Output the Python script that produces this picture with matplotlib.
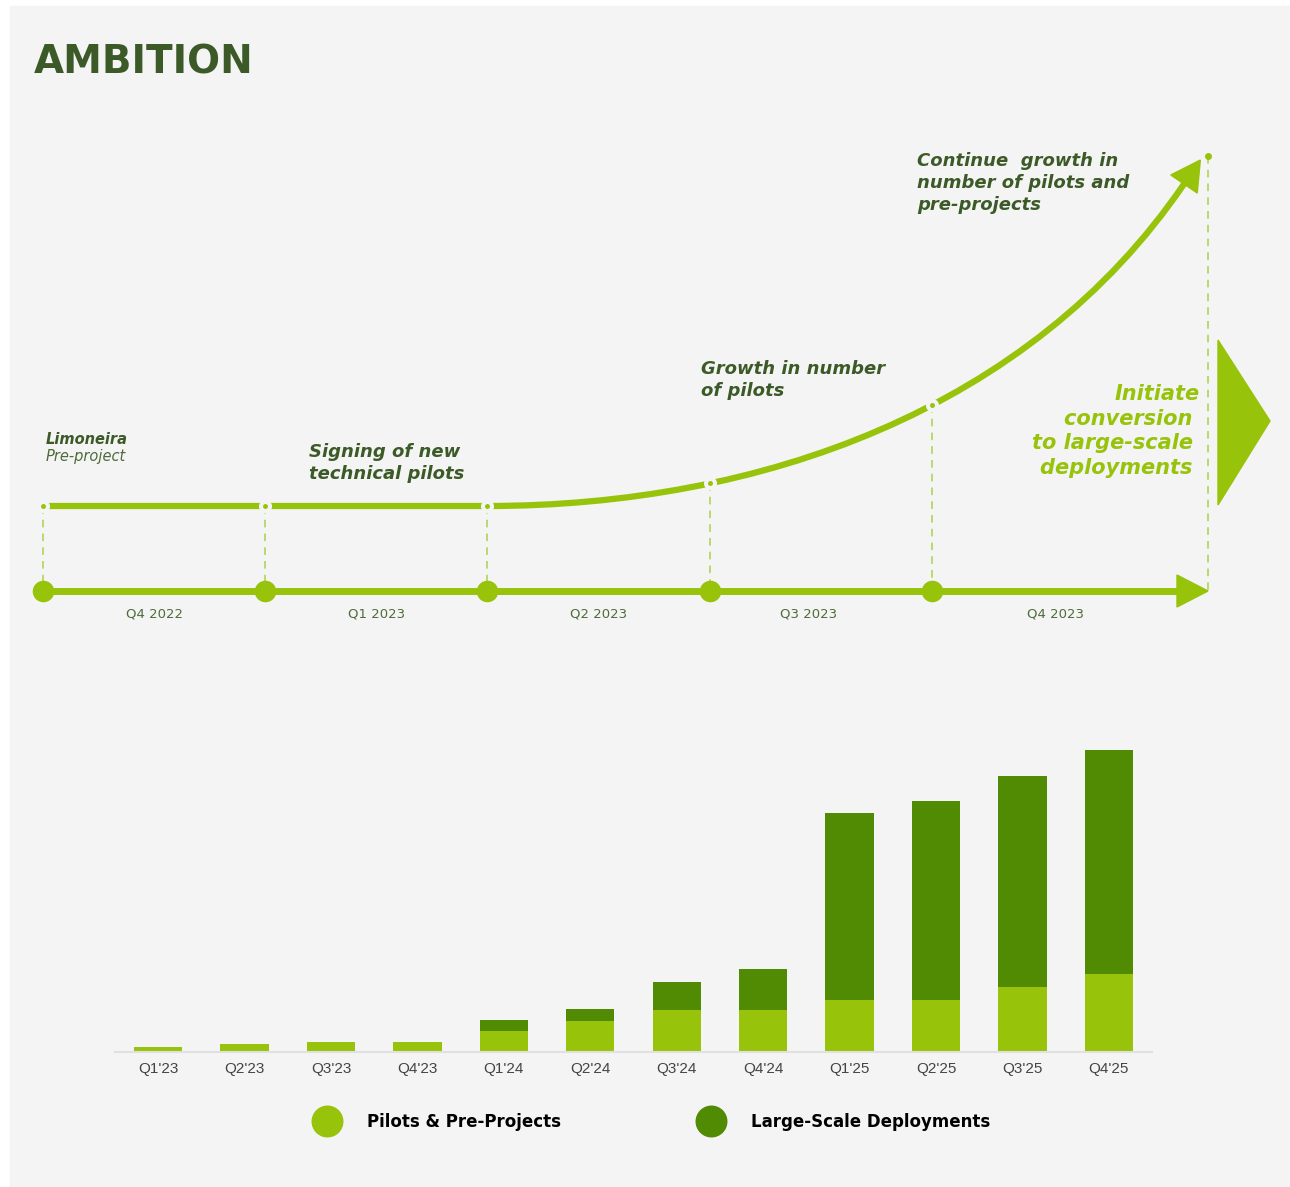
import numpy as np
import matplotlib
matplotlib.use("Agg")
import matplotlib.pyplot as plt
from matplotlib.patches import Rectangle, Polygon, PathPatch
from matplotlib.path import Path
from matplotlib.lines import Line2D

# --- data -----------------------------------------------------------------
bar_labels = ["Q1'23", "Q2'23", "Q3'23", "Q4'23", "Q1'24", "Q2'24",
              "Q3'24", "Q4'24", "Q1'25", "Q2'25", "Q3'25", "Q4'25"]
pilots = [2, 3, 4, 4, 8, 12, 16, 16, 20, 20, 25, 30]
large_scale = [0, 0, 0, 0, 4.5, 4.5, 11, 16, 72, 76.5, 81, 86]

timeline_quarters = ["Q4 2022", "Q1 2023", "Q2 2023", "Q3 2023", "Q4 2023"]
milestone_texts = ["Signing of new\ntechnical pilots",
                   "Growth in number\nof pilots",
                   "Continue  growth in\nnumber of pilots and\npre-projects"]

LIGHT = "#97C30A"
DARK = "#518A03"
DASH = "#A9D14B"
TXT = "#3C5A27"
BG = "#F4F4F4"

W, H = 1290, 1187
fig = plt.figure(figsize=(W / 100, H / 100), dpi=100, facecolor="white")

# overlay axes in pixel coordinates for the timeline diagram
ov = fig.add_axes([0, 0, 1, 1])
ov.set_xlim(0, W)
ov.set_ylim(H, 0)
ov.axis("off")
ov.add_patch(Rectangle((10, 6), W - 10, H - 6, color=BG, zorder=0))

ov.text(34, 62, "AMBITION", fontsize=28, fontweight="bold", color=TXT,
        va="center", ha="left")

# timeline geometry
x0, step = 43, 222.2
nodes_x = [x0 + step * i for i in range(len(timeline_quarters))]
end_x = 1208
base_y = 591
flat_y = 506

# base axis with arrow
ov.plot([x0, 1180], [base_y, base_y], color=LIGHT, lw=5, solid_capstyle="butt", zorder=3)
ov.add_patch(Polygon([[1177, 575], [1177, 607], [end_x, base_y]], color=LIGHT, zorder=3))
ov.plot(nodes_x, [base_y] * len(nodes_x), "o", color=LIGHT, ms=14.5, zorder=4)

# quarter labels between nodes
seg_edges = nodes_x + [1180]
label_x = [(seg_edges[i] + seg_edges[i + 1]) / 2 for i in range(len(timeline_quarters))]
label_x[3] -= 12
for q, lx in zip(timeline_quarters, label_x):
    ov.text(lx, 614, q, fontsize=9.5, color="#4E6B3A", ha="center", va="center")

# growth curve: flat then rising bezier
P0 = (nodes_x[2], flat_y)
P1 = (760, flat_y)
P2 = (1030, 410)
P3 = (1184, 184)
ov.plot([x0, nodes_x[2]], [flat_y, flat_y], color=LIGHT, lw=4.5,
        solid_capstyle="butt", zorder=3)
curve = Path([P0, P1, P2, P3], [Path.MOVETO, Path.CURVE4, Path.CURVE4, Path.CURVE4])
ov.add_patch(PathPatch(curve, fill=False, edgecolor=LIGHT, lw=4.5,
                       capstyle="butt", zorder=3))
d = np.array(P3) - np.array(P2)
d = d / np.hypot(*d)
n = np.array([-d[1], d[0]])
tip = np.array(P3) + 29 * d
ov.add_patch(Polygon([tip, np.array(P3) + 16 * n, np.array(P3) - 16 * n],
                     color=LIGHT, zorder=3))


def bez(t):
    p = [np.array(v, float) for v in (P0, P1, P2, P3)]
    return ((1 - t) ** 3 * p[0] + 3 * (1 - t) ** 2 * t * p[1]
            + 3 * (1 - t) * t ** 2 * p[2] + t ** 3 * p[3])


def y_on_curve(x):
    ts = np.linspace(0, 1, 400)
    pts = np.array([bez(t) for t in ts])
    return np.interp(x, pts[:, 0], pts[:, 1])


dot_y = [flat_y, flat_y, flat_y, y_on_curve(nodes_x[3]), y_on_curve(nodes_x[4])]
for xx, yy in zip(nodes_x, dot_y):
    ov.plot([xx, xx], [yy, base_y], color=DASH, lw=1.1, dashes=(5, 4), zorder=2)
ov.plot(nodes_x, dot_y, "o", color=LIGHT, ms=6.5, mec=BG, mew=2.9, zorder=5)
ov.plot([end_x, end_x], [156, base_y], color=DASH, lw=1.1, dashes=(5, 4), zorder=2)
ov.plot([end_x], [156], "o", color=LIGHT, ms=4, zorder=5)

# big right triangle
ov.add_patch(Polygon([[1218, 340], [1218, 505], [1270, 421]], color=LIGHT, zorder=3))

# annotations
ov.text(46, 439, "Limoneira", fontsize=10.5, fontweight="bold", style="italic",
        color=TXT, va="center")
ov.text(46, 457, "Pre-project", fontsize=10.5, style="italic", color="#4E6B3A", va="center")
ann_pos = [(309, 463), (701, 380), (917, 183)]
for txt, (tx, ty) in zip(milestone_texts, ann_pos):
    ov.text(tx, ty, txt, fontsize=13, fontweight="bold", style="italic", color=TXT,
            va="center", ha="left", linespacing=1.25)
ov.text(1200, 431, "Initiate\nconversion \nto large-scale \ndeployments ",
        fontsize=15, fontweight="bold", style="italic", color=LIGHT,
        va="center", ha="right", multialignment="right", linespacing=1.28)

# --- bar chart --------------------------------------------------------------
ax = fig.add_axes([115 / W, (H - 1052) / H, 1037 / W, 312 / H])
ax.set_facecolor("none")
x = np.arange(len(bar_labels))
ax.bar(x, pilots, width=0.56, color=LIGHT, zorder=2)
ax.bar(x, large_scale, width=0.56, bottom=pilots, color=DARK, zorder=2)
ax.set_xlim(-0.5, 11.5)
ax.set_ylim(0, 120)
ax.set_xticks(x)
ax.set_xticklabels(bar_labels, fontsize=11, color="#444444", family="Liberation Sans")
ax.tick_params(axis="x", length=0, pad=7)
ax.set_yticks([])
for s in ["top", "left", "right"]:
    ax.spines[s].set_visible(False)
ax.spines["bottom"].set_color("#E0E0E0")
ax.spines["bottom"].set_linewidth(1.5)

handles = [Line2D([], [], marker="o", ls="none", color=LIGHT, ms=22),
           Line2D([], [], marker="o", ls="none", color=DARK, ms=22)]
fig.legend(handles, ["Pilots & Pre-Projects", "Large-Scale Deployments"],
           loc="center", bbox_to_anchor=(652 / W, (H - 1122) / H), ncol=2,
           frameon=False, prop={"weight": "bold", "size": 12},
           handletextpad=1.6, columnspacing=8.2, handlelength=1.6)

fig.savefig("out.png", dpi=100, facecolor="white")
